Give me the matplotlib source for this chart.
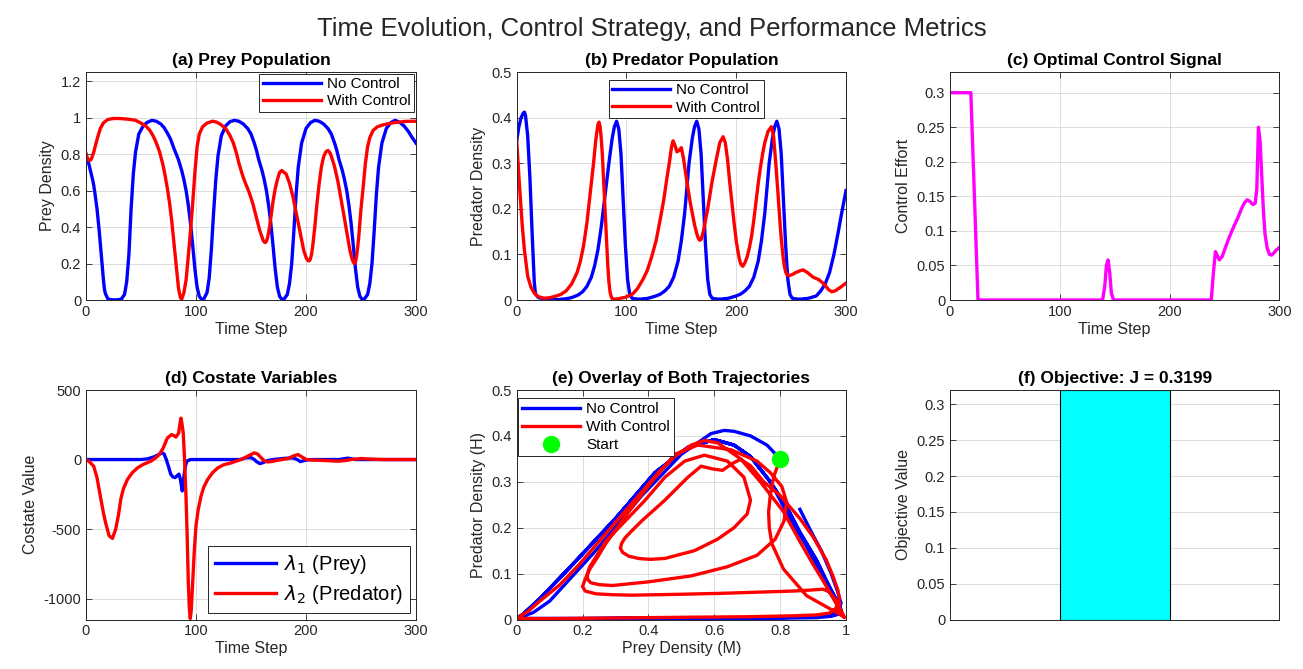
import matplotlib
matplotlib.use('Agg')
import matplotlib.pyplot as plt
from matplotlib.ticker import FormatStrFormatter

plt.rcParams['font.family'] = ['Liberation Sans', 'DejaVu Sans']
plt.rcParams['axes.unicode_minus'] = False

# ---- data ----
# no control: prey (M) and predator (H) on a shared time grid
t_nc = [0, 2, 4, 6, 7, 8, 10, 12, 14, 16, 17, 18, 20,
        24, 28, 32, 35, 37, 39, 41, 43, 45, 48, 52, 56, 60, 64, 68, 71, 74, 77, 80, 82,
        84, 87, 89, 91, 93, 95, 97, 99, 101, 103, 105,
        107, 110, 112, 114, 116, 118, 120, 123, 127, 131, 135, 139, 143, 147, 150, 153, 155,
        157, 160, 162, 164, 166, 168, 170, 172, 174, 176, 178,
        180, 183, 185, 187, 189, 191, 193, 196, 200, 204, 208, 212, 216, 220, 223, 226, 228,
        230, 233, 235, 237, 239, 241, 243, 245, 247, 249, 251,
        253, 256, 258, 260, 262, 264, 266, 269, 273, 277, 281, 285, 289, 293, 296, 300]
prey_nc = [0.80, 0.76, 0.71, 0.66, 0.63, 0.59, 0.50, 0.38, 0.24, 0.10, 0.05, 0.03, 0.005,
           0.001, 0.001, 0.004, 0.03, 0.10, 0.25, 0.50, 0.69, 0.81, 0.91, 0.955, 0.975, 0.985, 0.98, 0.965, 0.945, 0.915, 0.88, 0.83, 0.80,
           0.77, 0.71, 0.66, 0.60, 0.52, 0.42, 0.30, 0.17, 0.07, 0.02, 0.004,
           0.005, 0.04, 0.12, 0.28, 0.48, 0.66, 0.79, 0.90, 0.955, 0.978, 0.985, 0.98, 0.965, 0.94, 0.91, 0.86, 0.82,
           0.77, 0.71, 0.66, 0.60, 0.52, 0.42, 0.30, 0.17, 0.07, 0.02, 0.004,
           0.005, 0.03, 0.09, 0.20, 0.38, 0.58, 0.73, 0.86, 0.94, 0.972, 0.985, 0.98, 0.965, 0.94, 0.91, 0.86, 0.82,
           0.77, 0.71, 0.66, 0.60, 0.52, 0.42, 0.30, 0.17, 0.07, 0.02, 0.004,
           0.005, 0.03, 0.09, 0.20, 0.38, 0.58, 0.73, 0.86, 0.94, 0.972, 0.985, 0.975, 0.955, 0.925, 0.895, 0.86]
pred_nc = [0.35, 0.38, 0.40, 0.41, 0.412, 0.405, 0.36, 0.27, 0.15, 0.04, 0.015, 0.01, 0.005,
           0.003, 0.002, 0.001, 0.001, 0.001, 0.001, 0.002, 0.002, 0.003, 0.004, 0.007, 0.011, 0.018, 0.03, 0.05, 0.075, 0.11, 0.16, 0.22, 0.26,
           0.30, 0.355, 0.38, 0.392, 0.375, 0.32, 0.22, 0.12, 0.045, 0.012, 0.004,
           0.003, 0.002, 0.002, 0.002, 0.003, 0.003, 0.004, 0.006, 0.009, 0.013, 0.02, 0.03, 0.05, 0.085, 0.13, 0.19, 0.245,
           0.30, 0.355, 0.38, 0.392, 0.375, 0.32, 0.22, 0.12, 0.045, 0.012, 0.004,
           0.003, 0.002, 0.002, 0.002, 0.003, 0.003, 0.004, 0.006, 0.009, 0.013, 0.02, 0.03, 0.05, 0.085, 0.13, 0.19, 0.245,
           0.30, 0.355, 0.38, 0.392, 0.375, 0.32, 0.22, 0.12, 0.045, 0.012, 0.004,
           0.003, 0.002, 0.002, 0.002, 0.003, 0.003, 0.004, 0.006, 0.009, 0.02, 0.035, 0.06, 0.10, 0.15, 0.19, 0.24]

# with control: prey and predator on a shared time grid
t_c = [0, 1, 2, 3, 4, 5, 7, 10, 13, 16, 20,
       25, 30, 35, 40, 45, 50, 55, 58, 61, 64, 67, 70, 72, 74, 75, 76, 77, 78, 79, 80, 81, 82, 83, 84, 85, 86, 87,
       89, 91, 93, 95, 97, 99, 101, 103, 106, 110, 115, 119, 123, 127, 131, 134, 137, 139, 141, 142.5,
       144, 146, 148, 150, 152, 155, 158, 160, 161, 162, 163, 164, 165, 166, 167, 168, 170, 172, 174, 176, 178,
       180, 182, 185, 188, 190, 192, 194, 196, 198, 200, 201, 202, 203, 204, 205, 206, 208, 210, 212, 214, 216, 218, 220,
       222, 224, 226, 229, 232, 234, 236, 238, 240, 241, 242, 243, 244, 245, 246, 247, 248, 250, 252, 254, 256, 258, 261,
       265, 270, 275, 280, 284, 287, 290, 295, 300]
prey_c = [0.80, 0.78, 0.77, 0.765, 0.767, 0.775, 0.81, 0.88, 0.94, 0.972, 0.99,
          0.995, 0.995, 0.993, 0.99, 0.985, 0.97, 0.95, 0.93, 0.90, 0.86, 0.81, 0.74, 0.68, 0.61, 0.57, 0.53, 0.48, 0.43, 0.37, 0.31, 0.25, 0.19, 0.13, 0.07, 0.035, 0.012, 0.004,
          0.04, 0.11, 0.24, 0.38, 0.53, 0.70, 0.84, 0.91, 0.95, 0.97, 0.98, 0.975, 0.96, 0.94, 0.90, 0.86, 0.80, 0.75, 0.71, 0.68,
          0.655, 0.625, 0.595, 0.56, 0.52, 0.45, 0.38, 0.345, 0.328, 0.318, 0.315, 0.322, 0.34, 0.37, 0.405, 0.45, 0.54, 0.61, 0.66, 0.70, 0.71,
          0.70, 0.69, 0.64, 0.57, 0.51, 0.45, 0.39, 0.33, 0.27, 0.235, 0.222, 0.215, 0.215, 0.225, 0.25, 0.29, 0.40, 0.53, 0.64, 0.73, 0.785, 0.812, 0.82,
          0.805, 0.77, 0.73, 0.65, 0.55, 0.48, 0.41, 0.34, 0.27, 0.245, 0.222, 0.208, 0.20, 0.208, 0.24, 0.29, 0.35, 0.50, 0.62, 0.75, 0.84, 0.89, 0.93,
          0.95, 0.96, 0.967, 0.972, 0.975, 0.977, 0.979, 0.98, 0.98]
pred_c = [0.35, 0.31, 0.27, 0.235, 0.20, 0.165, 0.11, 0.052, 0.028, 0.015, 0.007,
          0.004, 0.005, 0.008, 0.012, 0.02, 0.035, 0.06, 0.085, 0.12, 0.17, 0.235, 0.30, 0.35, 0.385, 0.39, 0.38, 0.355, 0.32, 0.27, 0.22, 0.17, 0.12, 0.075, 0.04, 0.018, 0.008, 0.003,
          0.002, 0.002, 0.003, 0.004, 0.005, 0.006, 0.008, 0.01, 0.014, 0.025, 0.045, 0.065, 0.095, 0.13, 0.18, 0.22, 0.27, 0.30, 0.335, 0.349,
          0.34, 0.325, 0.328, 0.334, 0.31, 0.26, 0.215, 0.19, 0.177, 0.165, 0.155, 0.146, 0.138, 0.133, 0.131, 0.133, 0.15, 0.175, 0.20, 0.23, 0.26,
          0.285, 0.31, 0.345, 0.358, 0.345, 0.31, 0.26, 0.215, 0.17, 0.13, 0.115, 0.10, 0.088, 0.08, 0.076, 0.074, 0.082, 0.095, 0.115, 0.14, 0.175, 0.215, 0.255,
          0.29, 0.32, 0.345, 0.37, 0.38, 0.36, 0.30, 0.235, 0.165, 0.135, 0.11, 0.088, 0.072, 0.062, 0.056, 0.054, 0.053, 0.055, 0.057, 0.06, 0.062, 0.064, 0.066,
          0.06, 0.05, 0.045, 0.035, 0.023, 0.018, 0.02, 0.028, 0.037]

# optimal control signal
t_u = [0, 19, 25.5, 139, 141, 142.5, 144, 145.5, 147, 149,
       238, 240, 241.8, 243, 245.4, 248, 250, 253, 256, 259, 262, 265, 268, 270.7, 273, 276,
       278, 279.5, 281, 282.5, 284, 285.5, 287, 289, 291, 293, 295, 297, 300]
u_c = [0.3, 0.3, 0.0, 0.0, 0.02, 0.05, 0.058, 0.04, 0.01, 0.0,
       0.0, 0.04, 0.07, 0.066, 0.058, 0.063, 0.072, 0.085, 0.097, 0.108, 0.118, 0.13, 0.14, 0.145, 0.143, 0.138,
       0.14, 0.16, 0.25, 0.23, 0.18, 0.13, 0.095, 0.075, 0.066, 0.065, 0.068, 0.072, 0.076]

# costates
t_l1 = [0, 50, 56, 62, 66, 69, 71, 73, 75, 77, 79, 81, 83, 84.5, 86, 87.5, 89, 90.5, 92, 95,
        140, 145, 150, 153, 155, 158, 161, 165, 170, 180, 188, 192, 195, 198, 203, 230, 238, 245, 300]
lam1 = [0, 0, 5, 20, 35, 48, 40, 0, -50, -105, -125, -130, -115, -105, -150, -226, -120, -40, -10, 0,
        0, 12, 14, 0, -15, -29, -22, -8, 0, 8, 12, 0, -15, -8, 0, 0, 10, 0, 0]
t_l2 = [0, 3, 7, 10, 13, 16, 18, 21, 24, 27, 29.5, 31.6, 34, 37.7, 42, 46.8, 52, 59, 63, 66.6, 70,
        74, 77.8, 80, 81.8, 84.2, 85.5, 86.3, 87.2, 88.4, 89.5, 91, 92, 93, 94, 94.8, 95.7, 97, 98.5,
        100, 102, 104.6, 107, 110.6, 115, 119.8, 125, 132, 137, 141, 147, 153, 156, 159.3, 162, 165,
        169, 173, 178, 183.6, 188, 192.7, 196, 200.3, 205, 211, 220, 229, 235, 241, 250, 260, 270, 300]
lam2 = [0, -15, -48, -130, -262, -390, -460, -548, -567, -500, -400, -286, -210, -143, -95, -60, -35, -12, 10, 36, 80,
        155, 179, 172, 162, 190, 260, 298, 260, 190, 20, -286, -560, -881, -1080, -1143, -1080, -881, -650,
        -476, -360, -262, -200, -143, -95, -60, -38, -24, -10, 0, 24, 48, 40, 12, -8, -17,
        -14, -7, 0, 7, 24, 36, 20, 0, -4, -5, -8, -12, -8, 0, 7, 3, 0, 0]

J_value = 0.3199

fig = plt.figure(figsize=(13.03, 6.69), dpi=100)
fig.suptitle('Time Evolution, Control Strategy, and Performance Metrics',
             fontsize=18.5, y=0.975, color='#262626')

W, H = 1303, 669
def box(left, top, right, bottom):
    return [left / W, (H - bottom) / H, (right - left) / W, (bottom - top) / H]

dark = '#262626'

def style(ax, title):
    ax.set_title(title, fontsize=12.5, fontweight='bold', pad=5, color='black')
    ax.grid(True, color='#dcdcdc', linewidth=0.7)
    ax.set_axisbelow(True)
    ax.tick_params(direction='in', length=4, top=True, right=True,
                   labelsize=10.5, colors=dark, width=0.6)
    for s in ax.spines.values():
        s.set_color(dark)
        s.set_linewidth(0.7)
    ax.yaxis.set_major_formatter(FormatStrFormatter('%g'))
    ax.xaxis.set_major_formatter(FormatStrFormatter('%g'))

def legend(ax, **kw):
    opts = dict(fontsize=11, handlelength=3.8, fancybox=False, edgecolor=dark,
                framealpha=1, borderpad=0.25, labelspacing=0.2, handletextpad=0.4)
    opts.update(kw)
    leg = ax.legend(**opts)
    leg.get_frame().set_linewidth(0.7)
    return leg

lw = 2.4

# (a) prey
ax = fig.add_axes(box(86, 72, 416, 300))
ax.plot(t_nc, prey_nc, color='blue', lw=lw, label='No Control')
ax.plot(t_c, prey_c, color='red', lw=lw, label='With Control')
ax.set_xlim(0, 300)
ax.set_ylim(0, 1.25)
ax.set_xticks([0, 100, 200, 300])
ax.set_yticks([0, 0.2, 0.4, 0.6, 0.8, 1, 1.2])
style(ax, '(a) Prey Population')
ax.set_xlabel('Time Step', fontsize=11.5, color=dark, labelpad=2)
ax.set_ylabel('Prey Density', fontsize=11.5, color=dark)
legend(ax, loc='upper right', borderaxespad=0.1)

# (b) predator
ax = fig.add_axes(box(516.7, 72, 846, 300))
ax.plot(t_nc, pred_nc, color='blue', lw=lw, label='No Control')
ax.plot(t_c, pred_c, color='red', lw=lw, label='With Control')
ax.set_xlim(0, 300)
ax.set_ylim(0, 0.5)
ax.set_xticks([0, 100, 200, 300])
ax.set_yticks([0, 0.1, 0.2, 0.3, 0.4, 0.5])
style(ax, '(b) Predator Population')
ax.set_xlabel('Time Step', fontsize=11.5, color=dark, labelpad=2)
ax.set_ylabel('Predator Density', fontsize=11.5, color=dark)
legend(ax, loc='upper center', bbox_to_anchor=(0.515, 1.0))

# (c) control
ax = fig.add_axes(box(950, 72, 1279.3, 300))
ax.plot(t_u, u_c, color='magenta', lw=lw)
ax.set_xlim(0, 300)
ax.set_ylim(0, 0.33)
ax.set_xticks([0, 100, 200, 300])
ax.set_yticks([0, 0.05, 0.1, 0.15, 0.2, 0.25, 0.3])
style(ax, '(c) Optimal Control Signal')
ax.set_xlabel('Time Step', fontsize=11.5, color=dark, labelpad=2)
ax.set_ylabel('Control Effort', fontsize=11.5, color=dark)

# (d) costates
ax = fig.add_axes(box(86, 390, 416, 619.5))
ax.plot(t_l1, lam1, color='blue', lw=lw, label=r'$\lambda_1$ (Prey)')
ax.plot(t_l2, lam2, color='red', lw=lw, label=r'$\lambda_2$ (Predator)')
ax.set_xlim(0, 300)
ax.set_ylim(-1150, 500)
ax.set_xticks([0, 100, 200, 300])
ax.set_yticks([-1000, -500, 0, 500])
style(ax, '(d) Costate Variables')
ax.set_xlabel('Time Step', fontsize=11.5, color=dark, labelpad=2)
ax.set_ylabel('Costate Value', fontsize=11.5, color=dark)
legend(ax, loc='lower right', fontsize=14.5, handlelength=3.0, borderaxespad=0.3,
       borderpad=0.35, labelspacing=0.35)

# (e) phase portrait
ax = fig.add_axes(box(516.7, 390, 846, 619.5))
ax.plot(prey_nc, pred_nc, color='blue', lw=lw, label='No Control')
ax.plot(prey_c, pred_c, color='red', lw=lw, label='With Control')
ax.plot([prey_c[0]], [pred_c[0]], 'o', color='#00ff00', ms=11.5, label='Start')
ax.set_xlim(0, 1)
ax.set_ylim(0, 0.5)
ax.set_xticks([0, 0.2, 0.4, 0.6, 0.8, 1])
ax.set_yticks([0, 0.1, 0.2, 0.3, 0.4, 0.5])
style(ax, '(e) Overlay of Both Trajectories')
ax.set_xlabel('Prey Density (M)', fontsize=11.5, color=dark, labelpad=2)
ax.set_ylabel('Predator Density (H)', fontsize=11.5, color=dark)
legend(ax, loc='upper left', bbox_to_anchor=(0.0, 0.97), borderaxespad=0.1, labelspacing=0.25)

# (f) objective
ax = fig.add_axes(box(950, 390, 1279.3, 619.5))
ax.bar([1], [J_value], width=0.8, color='cyan', edgecolor='black', linewidth=0.8)
ax.set_xlim(-0.2, 2.2)
ax.set_ylim(0, J_value)
ax.set_yticks([0, 0.05, 0.1, 0.15, 0.2, 0.25, 0.3])
style(ax, '(f) Objective: J = %.4f' % J_value)
ax.set_xticks([])
ax.grid(True, axis='y', color='#dcdcdc', linewidth=0.7)
ax.set_ylabel('Objective Value', fontsize=11.5, color=dark)

fig.savefig('out.png', dpi=100)
